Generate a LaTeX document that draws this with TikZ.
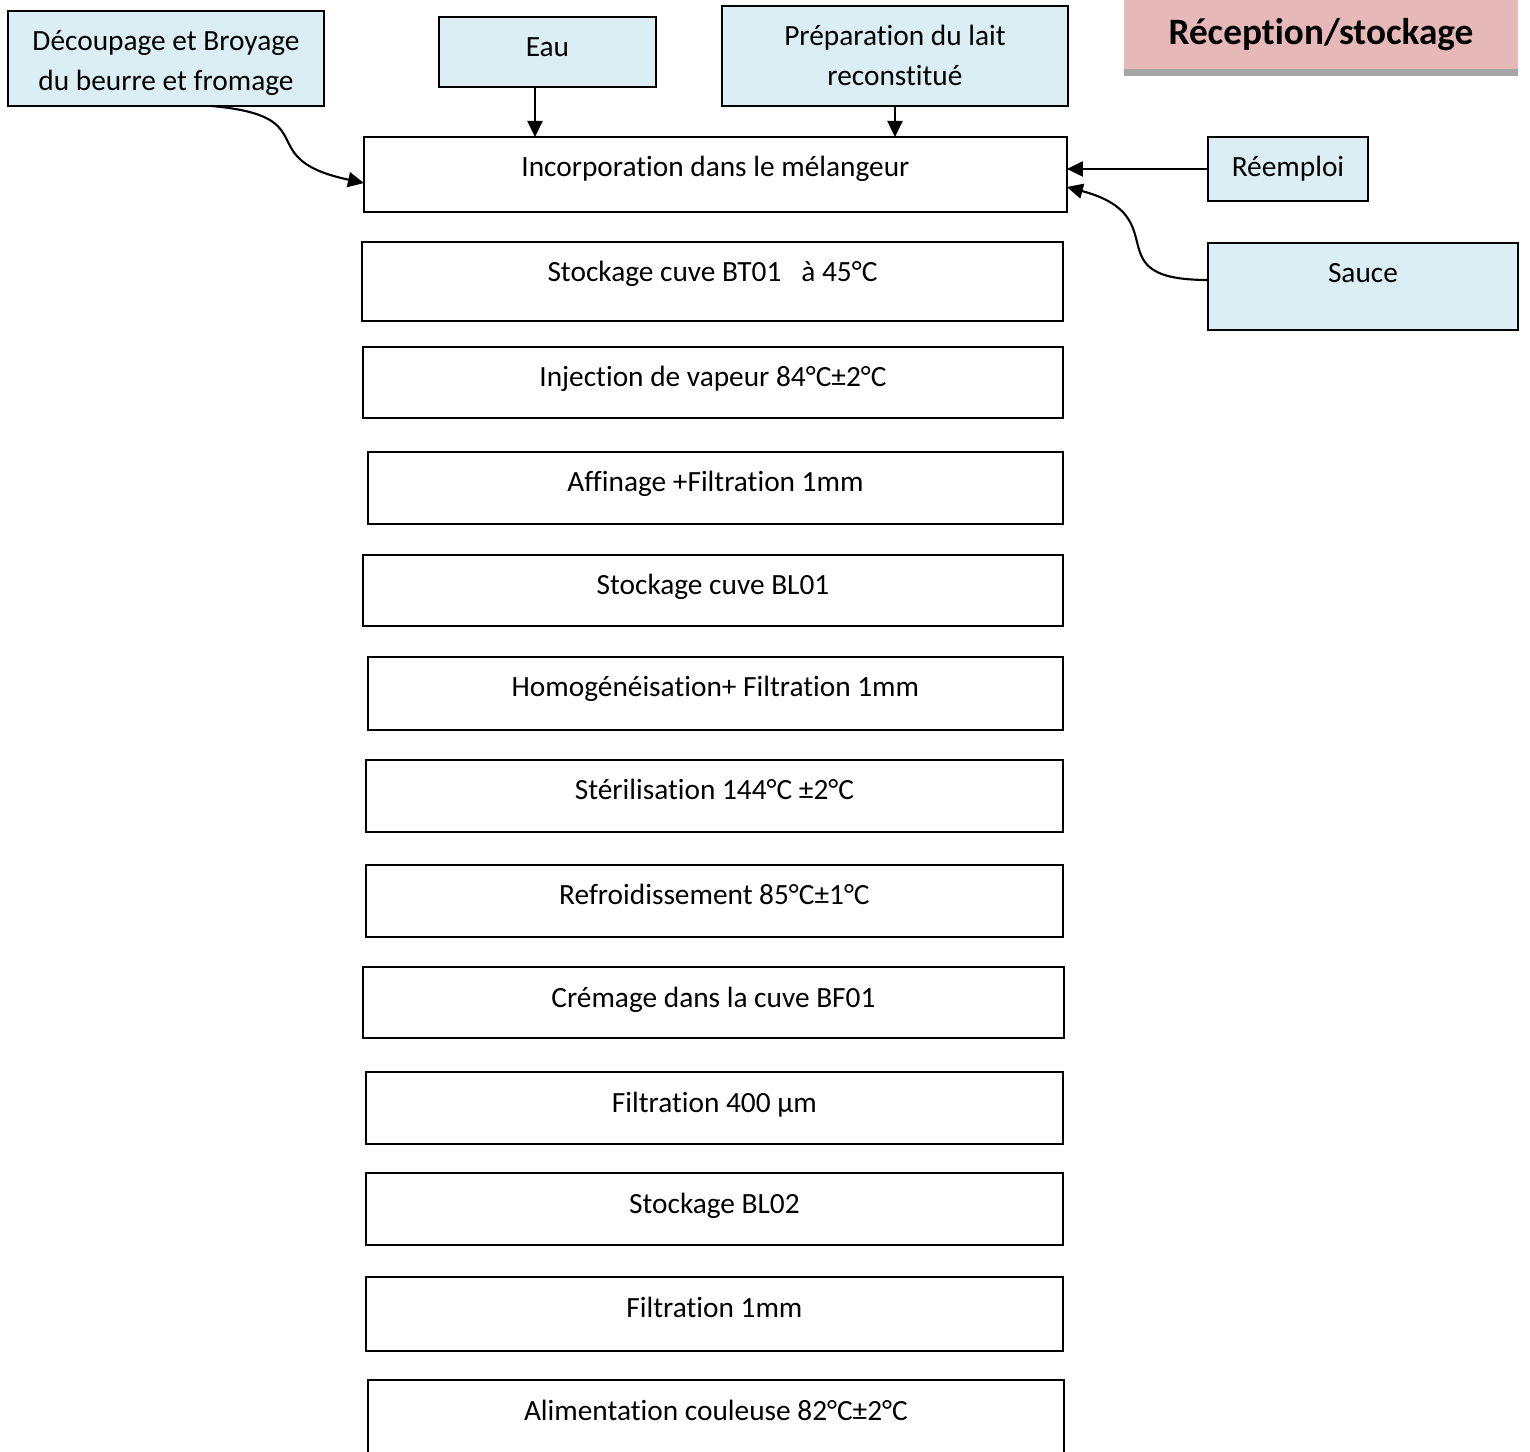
\documentclass[tikz,border=0pt]{standalone}
\usepackage{fontspec}
\setmainfont{Carlito}[Ligatures=NoCommon]
\usepackage{tikz}
\usetikzlibrary{arrows.meta, positioning, calc}
\definecolor{cBleu}{RGB}{218,238,243}
\definecolor{cRose}{RGB}{230,185,184}
\definecolor{cGris}{RGB}{166,166,166}
\tikzset{
	etape/.style ={rectangle, draw=black, line width=1.3pt, anchor=north west, outer sep=0pt, inner ysep=0pt, text height=0.8cm, text depth=0.64cm, align=center},
	entree/.style={etape, fill=cBleu},
	titre/.style ={rectangle, anchor=north west, outer sep=0pt, inner ysep=0pt, fill=cRose, text height=0.9cm, text depth=0.48cm, font=\fontsize{21.2}{25}\selectfont\bfseries},
	fleche/.style={-{Triangle[length=0.32cm, width=0.3cm]}, line width=1.2pt},
}
\begin{document}
\begin{tikzpicture}[x=0.02cm, y=-0.02cm, font=\fontsize{16.7}{22.8}\selectfont]
					\useasboundingbox (0,0) rectangle (1530,1452);
					\clip (0,0) rectangle (1530,1452);
					% entrees
					\node[entree, minimum width=6.32cm, text height=1.6cm, text depth=0.3cm] (decoupage) at (8,11) {Découpage et Broyage\\du beurre et fromage};
					\node[entree, minimum width=4.34cm, text depth=0.6cm] (eau) at (439,17) {Eau};
					\node[entree, minimum width=6.92cm, text height=1.6cm, text depth=0.4cm] (prep) at (722,6) {Préparation du lait\\reconstitué};
					\node[entree, minimum width=3.2cm, text depth=0.48cm] (reemploi) at (1208,137) {Réemploi};
					\node[entree, minimum width=6.2cm, text depth=0.94cm] (sauce) at (1208,243) {Sauce};
					\node[titre, minimum width=7.88cm] (recep) at (1124,0) {Réception/stockage};
					\fill[cGris] (recep.south west) rectangle ([yshift=-0.14cm]recep.south east);
					% etapes
					\node[etape, minimum width=14.06cm, text depth=0.7cm] (incorp) at (364,137) {Incorporation dans le mélangeur};
					\node[etape, minimum width=14.02cm, text depth=0.78cm] (bt) at (362,242) {Stockage cuve BT01\ \ \ à 45°C};
					\node[etape, minimum width=14cm, text depth=0.62cm] (vapeur) at (363,347) {Injection de vapeur 84°C±2°C};
					\node[etape, minimum width=13.9cm] (affinage) at (368,452) {Affinage +Filtration 1mm};
					\node[etape, minimum width=14cm, text depth=0.62cm] (bla) at (363,555) {Stockage cuve BL01};
					\node[etape, minimum width=13.9cm, text depth=0.66cm] (homog) at (368,657) {Homogénéisation+ Filtration 1mm};
					\node[etape, minimum width=13.94cm] (steril) at (366,760) {Stérilisation 144°C ±2°C};
					\node[etape, minimum width=13.94cm] (refroid) at (366,865) {Refroidissement 85°C±1°C};
					\node[etape, minimum width=14.02cm, text depth=0.62cm] (cremage) at (363,967) {Crémage dans la cuve BF01};
					\node[etape, minimum width=13.94cm] (filtquatre) at (366,1072) {Filtration 400 µm};
					\node[etape, minimum width=13.94cm] (blb) at (366,1173) {Stockage BL02};
					\node[etape, minimum width=13.94cm, text depth=0.68cm] (filtun) at (366,1277) {Filtration 1mm};
					\node[etape, minimum width=13.92cm, text depth=0.8cm] (alim) at (368,1380) {Alimentation couleuse 82°C±2°C};
					% fleches
					\draw[fleche] ([xshift=0.9cm]decoupage.south) to[out=-5, in=168, looseness=1.75] ([yshift=-0.17cm]incorp.west);
					\draw[fleche] ([xshift=-0.25cm]eau.south) -- ([xshift=-0.25cm]eau.south |- incorp.north);
					\draw[fleche] (prep.south) -- (prep.south |- incorp.north);
					\draw[fleche] (reemploi.west) -- (reemploi.west -| incorp.east);
					\draw[fleche] ([yshift=0.13cm]sauce.west) to[out=180, in=-15, looseness=1.75] ([yshift=-0.25cm]incorp.east);
				\end{tikzpicture}
\end{document}
